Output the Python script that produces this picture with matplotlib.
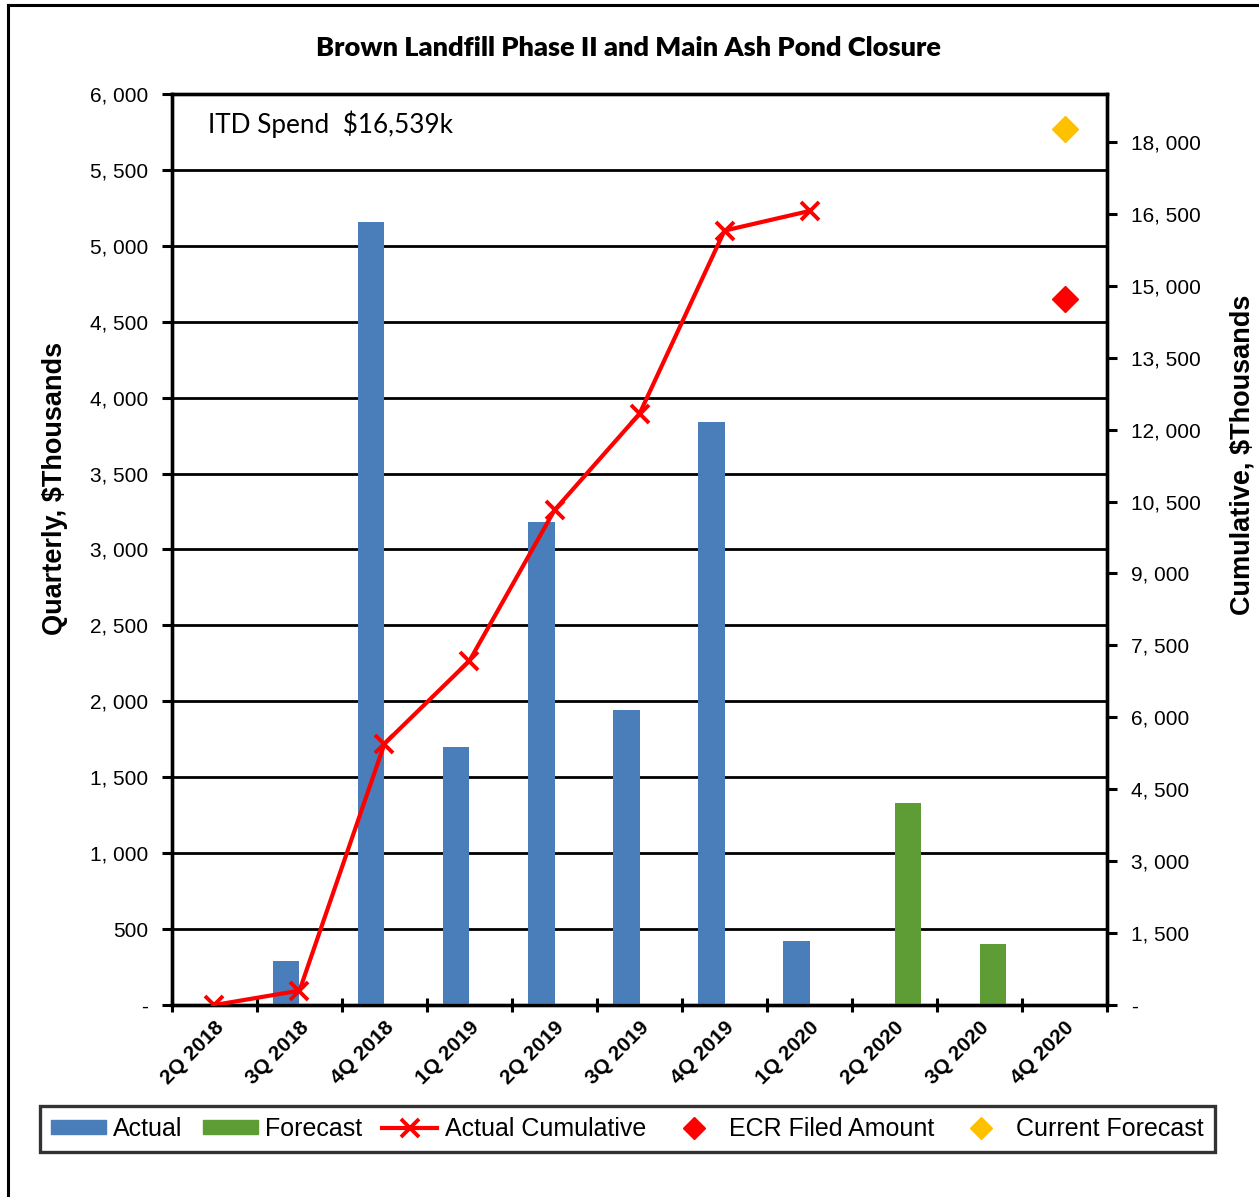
import numpy as np
import matplotlib.pyplot as plt
from matplotlib.lines import Line2D
from matplotlib.patches import Patch
from matplotlib.ticker import FuncFormatter

# data
quarters = ["2Q 2018", "3Q 2018", "4Q 2018", "1Q 2019", "2Q 2019", "3Q 2019",
            "4Q 2019", "1Q 2020", "2Q 2020", "3Q 2020", "4Q 2020"]
actual = [0, 290, 5160, 1700, 3180, 1940, 3840, 420, 0, 0, 0]
forecast = [0, 0, 0, 0, 0, 0, 0, 0, 1330, 400, 0]
cumulative = [0, 300, 5450, 7180, 10320, 12330, 16150, 16560]
ecr_filed = 14730
current_forecast = 18270
itd_text = "ITD Spend  $16,539k"
title = "Brown Landfill Phase II and Main Ash Pond Closure"

blue = "#4A7EBB"
green = "#5E9C36"
red = "#FF0000"
gold = "#FFC000"

def thousands(v, pos):
    if abs(v) < 1e-9:
        return "-"
    return "{:,.0f}".format(v).replace(",", ", ")

fig = plt.figure(figsize=(12.59, 11.97), dpi=100)
fig.patch.set_facecolor("white")
ax = fig.add_axes([0.1366, 0.1604, 0.8793 - 0.1366, 0.9215 - 0.1604])
ax2 = ax.twinx()

x = np.arange(len(quarters))
w = 0.31
ax.bar(x - w / 2, actual, width=w, color=blue, zorder=3)
ax.bar(x + w / 2, forecast, width=w, color=green, zorder=3)

ax.set_xlim(-0.5, len(quarters) - 0.5)
ax.set_ylim(0, 6000)
ax.set_yticks(np.arange(0, 6001, 500))
ax.yaxis.set_major_formatter(FuncFormatter(thousands))
ax.yaxis.grid(True, color="black", lw=2.0, zorder=1)
ax.set_axisbelow(True)

# category boundaries get tick marks, centres carry the labels
ax.set_xticks(np.arange(-0.5, len(quarters), 1.0))
ax.set_xticklabels([])
ax.set_xticks(x, minor=True)
ax.set_xticklabels(quarters, minor=True, rotation=45, ha="right",
                   rotation_mode="anchor", fontsize=15, fontweight="bold",
                   family="Liberation Sans")
ax.tick_params(axis="x", which="minor", length=0, pad=9)
ax.tick_params(axis="x", which="major", direction="inout", length=10, width=2.2)
ax.tick_params(axis="y", direction="out", length=7, width=2.2, labelsize=15, pad=10)
for lab in ax.get_yticklabels():
    lab.set_family("Liberation Sans")

ax2.plot(x[:len(cumulative)], cumulative, color=red, lw=3.0, marker="x",
         markersize=13, mew=2.8, zorder=5)
ax2.plot([x[-1]], [ecr_filed], ls="none", marker="D", color=red, markersize=13)
ax2.plot([x[-1]], [current_forecast], ls="none", marker="D", color=gold, markersize=13)
ax2.set_ylim(0, 19000)
ax2.set_yticks(np.arange(0, 18001, 1500))
ax2.yaxis.set_major_formatter(FuncFormatter(thousands))
ax2.tick_params(axis="y", direction="out", length=7, width=2.2, labelsize=15, pad=10)
for lab in ax2.get_yticklabels():
    lab.set_family("Liberation Sans")

for a in (ax, ax2):
    for s in a.spines.values():
        s.set_linewidth(2.4)
        s.set_color("black")

ax.text(0.038, 0.967, itd_text, transform=ax.transAxes, fontsize=18.8,
        family="Lato", va="center", ha="left")

fig.text(0.499, 0.960, title, ha="center", va="center", fontsize=19.5,
         fontweight="heavy", family="Lato")
fig.text(0.0437, 0.592, "Quarterly, $Thousands", rotation=90, ha="center",
         va="center", fontsize=19.5, fontweight="bold", family="Liberation Sans")
fig.text(0.9865, 0.62, "Cumulative, $Thousands", rotation=90, ha="center",
         va="center", fontsize=19.5, fontweight="bold", family="Liberation Sans")

handles = [
    Patch(color=blue, label="Actual"),
    Patch(color=green, label="Forecast"),
    Line2D([], [], color=red, lw=3.0, marker="x", markersize=13, mew=2.8,
           label="Actual Cumulative"),
    Line2D([], [], color=red, ls="none", marker="D", markersize=11,
           label="ECR Filed Amount"),
    Line2D([], [], color=gold, ls="none", marker="D", markersize=11,
           label="Current Forecast"),
]
leg = fig.legend(handles=handles, loc="center", bbox_to_anchor=(0.4984, 0.0568),
                 ncol=5, frameon=True, fancybox=False, edgecolor="black",
                 prop={"family": "Liberation Sans", "size": 18},
                 handlelength=2.2, handleheight=0.5, handletextpad=0.3,
                 columnspacing=0.8, borderpad=0.45)
leg.get_frame().set_linewidth(2.4)

# outer chart border (left and top edges visible)
fig.add_artist(Line2D([0.0064, 0.0064], [0.0, 0.9958], color="black", lw=2.2,
                      transform=fig.transFigure))
fig.add_artist(Line2D([0.0064, 1.0], [0.9958, 0.9958], color="black", lw=2.2,
                      transform=fig.transFigure))

fig.savefig("out.png", dpi=100, facecolor="white")
